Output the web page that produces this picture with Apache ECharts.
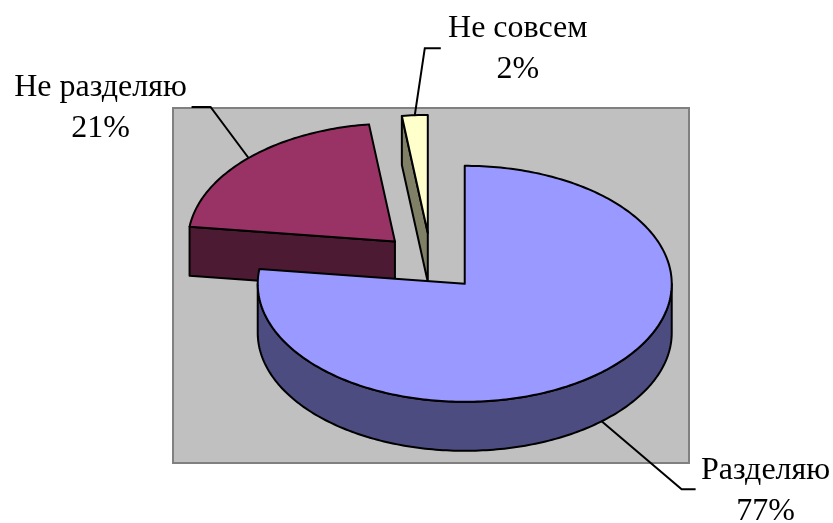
<!DOCTYPE html>
<html>
<head>
<meta charset="utf-8">
<script src="https://cdn.jsdelivr.net/npm/echarts@6/dist/echarts.min.js"></script>
<style>html,body{margin:0;padding:0;background:#fff}#c{width:833px;height:523px}</style>
</head>
<body>
<div id="c"></div>
<script>
const categories = ['Разделяю', 'Не разделяю', 'Не совсем'];
const values = [77, 21, 2];
const percentLabels = ['77%', '21%', '2%'];
const topColors = ['#9999FF', '#993366', '#FFFFCC'];
const sideColors = ['#4C4C80', '#4D1A33', '#808066'];

// layout (not data)
const L = { cx: 431, cy: 262, rx: 207, ry: 118, depth: 49, explode: 51 };
// leader layout per slice: elbow offset from anchor, horizontal run, label centre offset from line end
const leaders = [
  { elbow: [80, 68], run: 14, text: [70, 2] },
  { elbow: [-38, -51], run: -19, text: [-91, 1] },
  { elbow: [10, -67], run: 16, text: [77, 1] }
];

const total = values.reduce((a, b) => a + b, 0);
const starts = [];
{ let c = 0; values.forEach(v => { starts.push(c); c += v; }); }

function renderItem(params, api) {
  const i = params.dataIndex;
  const v = api.value(0);
  const ts = starts[i] / total * 360;
  const te = (starts[i] + v) / total * 360;
  const mid = (ts + te) / 2;
  const R = Math.PI / 180;
  const ax = L.cx + L.explode * Math.sin(mid * R);
  const ay = L.cy - L.explode * (L.ry / L.rx) * Math.cos(mid * R);
  const pt = (t, dz) => [ax + L.rx * Math.sin(t * R), ay - L.ry * Math.cos(t * R) + (dz || 0)];
  const arc = (a, b, dz) => {
    const n = Math.max(2, Math.ceil(Math.abs(b - a)) + 1);
    const out = [];
    for (let k = 0; k < n; k++) out.push(pt(a + (b - a) * k / (n - 1), dz));
    return out;
  };
  const D = L.depth;
  const base = Math.round(ay) * 10;
  const apex = [ax, ay], apexB = [ax, ay + D];
  const stroke = { stroke: '#000', lineWidth: 2, lineJoin: 'round' };
  const children = [];
  if (Math.sin(ts * R) < -0.01) {
    children.push({ type: 'polygon', z2: base + 1, shape: { points: [apex, pt(ts), pt(ts, D), apexB] },
      style: Object.assign({ fill: sideColors[i] }, stroke) });
  }
  if (Math.sin(te * R) > 0.01) {
    children.push({ type: 'polygon', z2: base + 1, shape: { points: [apex, pt(te), pt(te, D), apexB] },
      style: Object.assign({ fill: sideColors[i] }, stroke) });
  }
  const fa = Math.max(ts, 90), fb = Math.min(te, 270);
  if (fb > fa) {
    const topA = arc(fa, fb, 0);
    const botA = arc(fa, fb, D).reverse();
    children.push({ type: 'polygon', z2: base + 2, shape: { points: topA.concat(botA) },
      style: Object.assign({ fill: sideColors[i] }, stroke) });
  }
  children.push({ type: 'polygon', z2: base + 3, shape: { points: [apex].concat(arc(ts, te, 0)) },
    style: Object.assign({ fill: topColors[i] }, stroke) });

  const c = Math.cos(mid * R);
  const anchor = pt(mid, c < 0 ? D : 0);
  const ld = leaders[i];
  const elbow = [anchor[0] + ld.elbow[0], anchor[1] + ld.elbow[1]];
  const end = [elbow[0] + ld.run, elbow[1]];
  children.push({ type: 'polyline', z2: 90000, shape: { points: [anchor, elbow, end] },
    style: { stroke: '#000', lineWidth: 2, fill: null } });
  children.push({ type: 'text', z2: 90001,
    style: { text: categories[i] + '\n' + percentLabels[i], x: end[0] + ld.text[0], y: end[1] + ld.text[1],
      align: 'center', verticalAlign: 'middle', fill: '#000',
      font: '32px "Liberation Serif", "Times New Roman", serif', lineHeight: 41 } });

  return { type: 'group', children: children };
}

const chart = echarts.init(document.getElementById('c'), null, { renderer: 'canvas' });
chart.setOption({
  animation: false,
  backgroundColor: '#fff',
  graphic: [{ type: 'rect', z: -10, shape: { x: 173, y: 108, width: 516, height: 355 },
    style: { fill: '#C0C0C0', stroke: '#808080', lineWidth: 2 } }],
  series: [{
    type: 'custom',
    coordinateSystem: 'none',
    renderItem: renderItem,
    data: values.map((v, i) => ({ name: categories[i], value: [v] }))
  }]
});
</script>
</body>
</html>
